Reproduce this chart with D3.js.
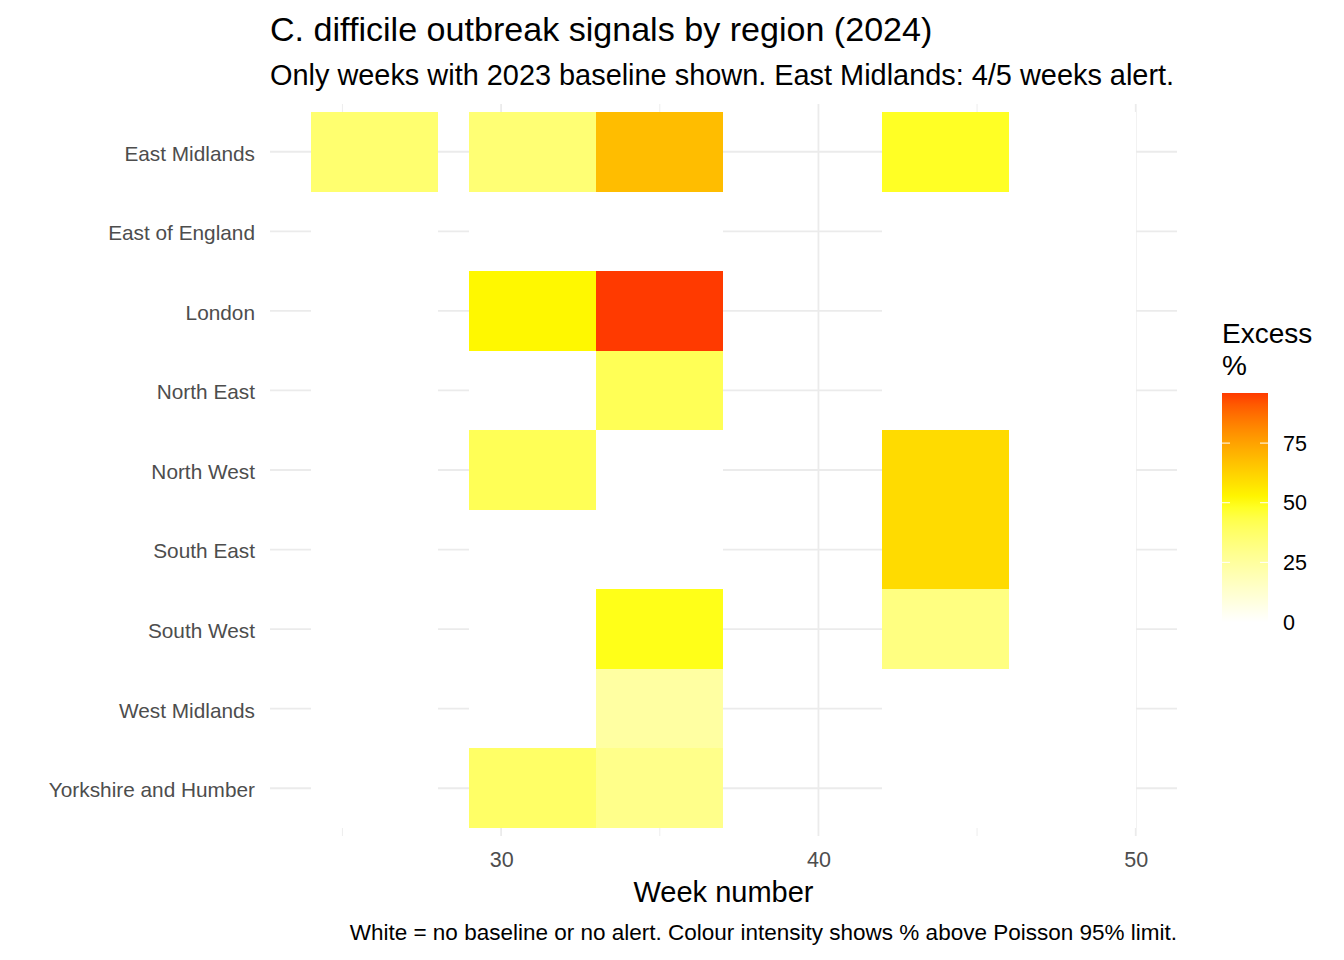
<!DOCTYPE html>
<html>
<head>
<meta charset="utf-8">
<script src="https://cdn.jsdelivr.net/npm/d3@7"></script>
<style>
  body { margin: 0; background: #fff; }
  text { font-family: "Liberation Sans", Arial, sans-serif; }
</style>
</head>
<body>
<svg id="chart" width="1344" height="960"></svg>
<script>
// Regions top to bottom, and the week each tile is centred on
const regions = [
  'East Midlands', 'East of England', 'London', 'North East', 'North West',
  'South East', 'South West', 'West Midlands', 'Yorkshire and Humber'
];
const weeks = [26, 31, 35, 44, 48];

// Excess % above Poisson 95% limit, one array per week (null = no baseline / no alert)
const week26 = [36, null, null, null, null, null, null, null, null];
const week31 = [35, null, 52, null, 41, null, null, null, 38];
const week35 = [68, null, 96, 41, null, null, 49, 24, 30];
const week44 = [48, null, null, null, 60, 60, 32, null, null];
const week48 = [null, null, null, null, null, null, null, null, null];

const xTicks = [30, 40, 50];
const xMinor = [25, 35, 45];
const legendTicks = [0, 25, 50, 75];

const byWeek = [week26, week31, week35, week44, week48];
const cells = [];
weeks.forEach((w, j) => {
  regions.forEach((r, i) => {
    cells.push({ week: w, region: r, value: byWeek[j][i] });
  });
});

const tileWidth = 4;
const panel = { left: 270, right: 1177, top: 104, bottom: 836 };

const svg = d3.select('#chart');

// Scales (x limits are the tile extents, expanded by 5%)
const xMin = d3.min(weeks) - tileWidth / 2;
const xMax = d3.max(weeks) + tileWidth / 2;
const pad = (xMax - xMin) * 0.05;
const x = d3.scaleLinear()
  .domain([xMin - pad, xMax + pad])
  .range([panel.left - 0.5, panel.right]);

const y = d3.scalePoint()
  .domain(regions)
  .range([panel.top, panel.bottom])
  .padding(0.6);
const rowH = y.step();

const maxVal = d3.max(cells, (d) => d.value);
const color = d3.scaleLinear()
  .domain([0, 50, 100])
  .range(['#ffffff', '#ffff00', '#ff0000'])
  .interpolate(d3.interpolateLab);

// Gridlines
const grid = svg.append('g');
grid.selectAll('.minor')
  .data(xMinor)
  .join('line')
  .attr('x1', (d) => x(d)).attr('x2', (d) => x(d))
  .attr('y1', panel.top).attr('y2', panel.bottom)
  .attr('stroke', '#ebebeb').attr('stroke-width', 0.9);
grid.selectAll('.majorx')
  .data(xTicks)
  .join('line')
  .attr('x1', (d) => x(d)).attr('x2', (d) => x(d))
  .attr('y1', panel.top).attr('y2', panel.bottom)
  .attr('stroke', '#ebebeb').attr('stroke-width', 1.8);
grid.selectAll('.majory')
  .data(regions)
  .join('line')
  .attr('x1', panel.left).attr('x2', panel.right)
  .attr('y1', (d) => y(d)).attr('y2', (d) => y(d))
  .attr('stroke', '#ebebeb').attr('stroke-width', 1.8);

// Tiles
svg.append('g')
  .selectAll('rect')
  .data(cells)
  .join('rect')
  .attr('x', (d) => x(d.week - tileWidth / 2))
  .attr('width', (d) => x(d.week + tileWidth / 2) - x(d.week - tileWidth / 2))
  .attr('y', (d) => y(d.region) - rowH / 2)
  .attr('height', rowH)
  .attr('fill', (d) => (d.value == null ? '#ffffff' : color(d.value)))
  .attr('shape-rendering', 'crispEdges');

// Axes
const xAxis = svg.append('g')
  .attr('transform', `translate(0,${panel.bottom})`)
  .call(d3.axisBottom(x).tickValues(xTicks).tickSize(0).tickPadding(16));
xAxis.select('.domain').remove();
xAxis.selectAll('text')
  .attr('fill', '#4d4d4d')
  .style('font-size', '21.5px')
  .style('font-family', '"Liberation Sans", Arial, sans-serif');

const yAxis = svg.append('g')
  .attr('transform', `translate(${panel.left},0)`)
  .call(d3.axisLeft(y).tickSize(0).tickPadding(15));
yAxis.select('.domain').remove();
yAxis.selectAll('text')
  .attr('fill', '#4d4d4d')
  .attr('dy', '0.4em')
  .style('font-size', '20.8px')
  .style('font-family', '"Liberation Sans", Arial, sans-serif');

// Titles
svg.append('text')
  .attr('x', panel.left).attr('y', 41)
  .style('font-size', '34.1px')
  .text('C. difficile outbreak signals by region (2024)');
svg.append('text')
  .attr('x', panel.left).attr('y', 85)
  .style('font-size', '28.9px')
  .text('Only weeks with 2023 baseline shown. East Midlands: 4/5 weeks alert.');
svg.append('text')
  .attr('x', (panel.left + panel.right) / 2).attr('y', 902)
  .attr('text-anchor', 'middle')
  .style('font-size', '29px')
  .text('Week number');
svg.append('text')
  .attr('x', panel.right).attr('y', 940)
  .attr('text-anchor', 'end')
  .style('font-size', '22.5px')
  .text('White = no baseline or no alert. Colour intensity shows % above Poisson 95% limit.');

// Legend colourbar
const leg = { x: 1222, w: 46, top: 393, bottom: 622 };
const legY = d3.scaleLinear().domain([0, maxVal]).range([leg.bottom, leg.top]);

const grad = svg.append('defs').append('linearGradient')
  .attr('id', 'legGrad')
  .attr('x1', 0).attr('x2', 0).attr('y1', 1).attr('y2', 0);
d3.range(0, 1.0001, 0.05).forEach((t) => {
  grad.append('stop')
    .attr('offset', t)
    .attr('stop-color', color(t * maxVal));
});

svg.append('rect')
  .attr('x', leg.x).attr('y', leg.top)
  .attr('width', leg.w).attr('height', leg.bottom - leg.top)
  .attr('fill', 'url(#legGrad)');

const legTicks = svg.append('g');
legendTicks.forEach((v) => {
  if (v > 0) {
    legTicks.append('line')
      .attr('x1', leg.x).attr('x2', leg.x + 8)
      .attr('y1', legY(v)).attr('y2', legY(v))
      .attr('stroke', '#fff').attr('stroke-width', 1);
    legTicks.append('line')
      .attr('x1', leg.x + leg.w - 8).attr('x2', leg.x + leg.w)
      .attr('y1', legY(v)).attr('y2', legY(v))
      .attr('stroke', '#fff').attr('stroke-width', 1);
  }
  legTicks.append('text')
    .attr('x', leg.x + leg.w + 15)
    .attr('y', legY(v))
    .attr('dy', '0.36em')
    .style('font-size', '21.5px')
    .text(v);
});

svg.append('text')
  .attr('x', leg.x).attr('y', 343)
  .style('font-size', '28px')
  .text('Excess');
svg.append('text')
  .attr('x', leg.x).attr('y', 375)
  .style('font-size', '28px')
  .text('%');
</script>
</body>
</html>
